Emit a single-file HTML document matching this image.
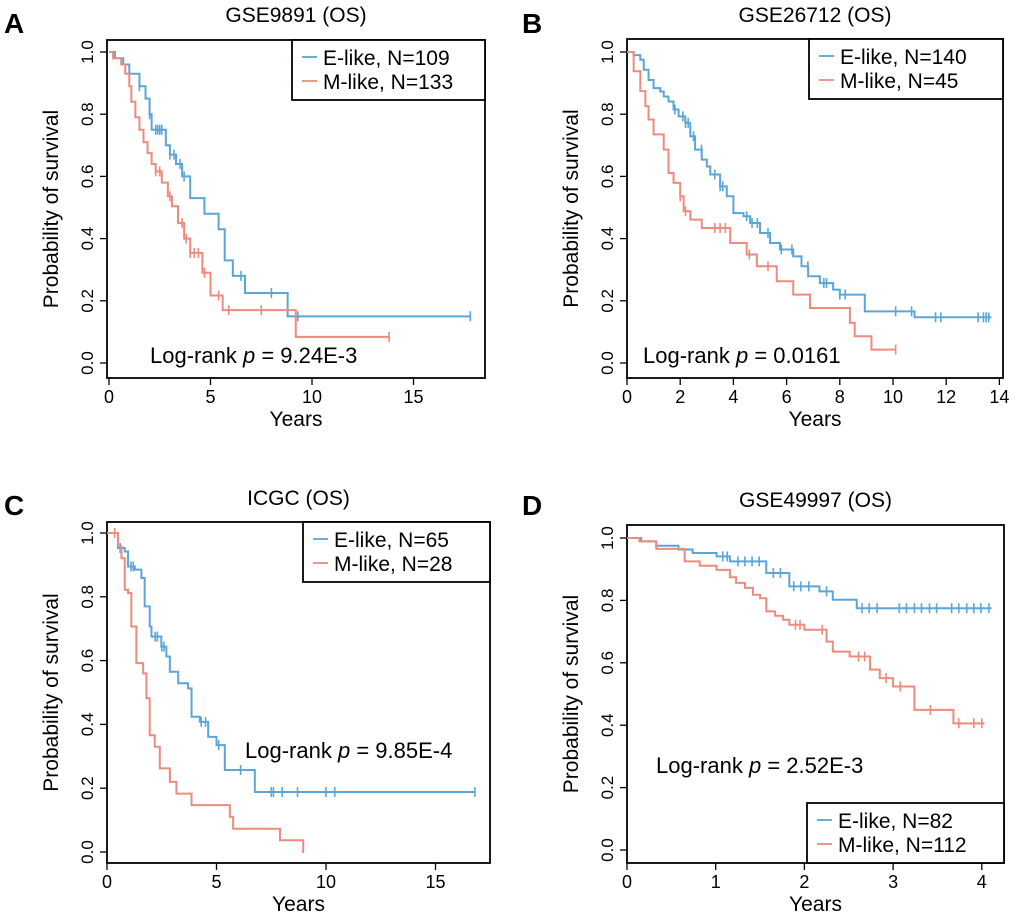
<!DOCTYPE html>
<html><head><meta charset="utf-8"><style>
body{margin:0;background:#fff}
svg{display:block;font-family:"Liberation Sans",Arial,sans-serif}
</style></head><body>
<svg id="fig" width="1020" height="921" viewBox="0 0 1020 921"></svg>
<script>
// ---- Panel A data (GSE9891) ----
const aBlueT=[0.3,0.7,1.0,1.5,1.8,2.0,2.1,2.8,3.0,3.3,3.6,4.0,4.7,5.4,5.7,6.1,6.7,8.8];
const aBlueS=[0.98,0.96,0.93,0.89,0.85,0.80,0.75,0.70,0.67,0.64,0.60,0.53,0.48,0.43,0.33,0.28,0.225,0.15];
const aBlueEnd=17.8;
const aBlueCens=[1.0,1.5,2.0,2.3,2.4,2.5,2.6,3.0,3.2,3.5,3.7,6.5,8.0,9.3,17.8];
const aRedT=[0.2,0.6,0.8,1.0,1.1,1.3,1.5,1.7,1.9,2.1,2.3,2.6,2.9,3.1,3.4,3.7,4.0,4.6,5.0,5.6,9.2];
const aRedS=[0.98,0.96,0.93,0.89,0.84,0.79,0.75,0.71,0.675,0.64,0.616,0.58,0.536,0.504,0.45,0.40,0.354,0.29,0.217,0.17,0.084];
const aRedEnd=13.8;
const aRedCens=[2.3,2.5,3.0,3.6,3.8,4.0,4.2,4.4,4.7,5.4,5.9,7.5,13.8];
// ---- Panel B data (GSE26712) ----
const bBlueT=[0.25,0.5,0.63,0.81,1.0,1.25,1.38,1.56,1.75,1.94,2.19,2.38,2.56,2.81,3.0,3.13,3.5,3.75,4.0,4.38,4.63,5.0,5.38,5.75,6.25,6.56,6.81,7.25,7.75,8.0,8.94,10.81];
const bBlueS=[0.99,0.975,0.943,0.91,0.884,0.873,0.857,0.841,0.815,0.793,0.772,0.729,0.686,0.654,0.632,0.606,0.568,0.536,0.482,0.472,0.45,0.418,0.386,0.365,0.343,0.311,0.279,0.257,0.236,0.22,0.166,0.147];
const bBlueEnd=13.7;
const bBlueCens=[1.8,2.1,2.2,2.3,2.5,2.8,3.3,3.5,3.6,4.5,4.7,4.9,5.3,5.8,6.2,6.8,7.4,7.5,8.0,8.2,10.1,10.7,11.6,11.8,13.2,13.4,13.5,13.6];
const bRedT=[0.25,0.5,0.69,0.81,1.0,1.38,1.56,1.75,2.0,2.13,2.38,2.81,3.88,4.5,4.88,5.63,6.25,6.88,8.38,8.56,9.19];
const bRedS=[0.938,0.874,0.826,0.783,0.735,0.686,0.611,0.579,0.536,0.488,0.461,0.434,0.386,0.349,0.311,0.263,0.22,0.177,0.129,0.086,0.043];
const bRedEnd=10.1;
const bRedCens=[2.0,2.2,3.3,3.5,3.7,4.6,5.3,10.1];
// ---- Panel C data (ICGC) ----
const cBlueT=[0.5,0.81,0.96,1.27,1.57,1.72,1.95,2.03,2.48,2.71,2.87,3.25,3.70,3.86,4.24,4.62,5.0,5.38,6.75];
const cBlueS=[0.953,0.942,0.895,0.885,0.859,0.77,0.707,0.675,0.644,0.613,0.565,0.529,0.513,0.424,0.408,0.361,0.335,0.257,0.188];
const cBlueEnd=16.8;
const cBlueCens=[0.6,1.1,1.2,2.2,2.3,2.5,2.6,4.3,4.5,5.1,6.1,7.5,7.6,8.0,8.7,10.0,10.4,16.8];
const cRedT=[0.5,0.66,0.81,0.96,1.11,1.34,1.65,1.80,1.95,2.18,2.41,2.87,3.17,3.86,5.61,5.76,7.90,8.96];
const cRedS=[0.958,0.921,0.822,0.812,0.707,0.592,0.56,0.482,0.366,0.33,0.262,0.22,0.183,0.147,0.11,0.073,0.037,0.0];
const cRedEnd=9.0;
const cRedCens=[0.35];
// ---- Panel D data (GSE49997) ----
const dBlueT=[0.16,0.33,0.58,0.74,1.01,1.16,1.57,1.83,2.17,2.32,2.59];
const dBlueS=[0.989,0.975,0.963,0.952,0.941,0.925,0.888,0.845,0.829,0.802,0.775];
const dBlueEnd=4.11;
const dBlueCens=[1.08,1.13,1.25,1.33,1.41,1.49,1.65,1.73,1.88,1.96,2.05,2.25,2.65,2.73,2.82,3.07,3.15,3.24,3.32,3.41,3.49,3.66,3.74,3.83,3.91,3.99,4.08];
const dRedT=[0.14,0.33,0.65,0.82,1.01,1.16,1.23,1.33,1.42,1.50,1.57,1.67,1.76,1.83,2.0,2.25,2.32,2.51,2.74,2.85,3.0,3.24,3.68];
const dRedS=[0.989,0.965,0.925,0.911,0.898,0.874,0.856,0.84,0.818,0.807,0.765,0.751,0.738,0.722,0.706,0.668,0.636,0.62,0.578,0.551,0.524,0.449,0.406];
const dRedEnd=4.03;
const dRedCens=[1.9,1.95,2.2,2.61,2.68,2.92,3.08,3.42,3.74,3.91,4.0];
// tick labels
const yTicks=["0.0","0.2","0.4","0.6","0.8","1.0"];
const aXTicks=[0,5,10,15];
const bXTicks=[0,2,4,6,8,10,12,14];
const cXTicks=[0,5,10,15];
const dXTicks=[0,1,2,3,4];

const NS="http://www.w3.org/2000/svg";
const svg=document.getElementById('fig');
const BLUE="#5aa6d9", RED="#ee8b7c";
function mk(tag,attrs,parent){const e=document.createElementNS(NS,tag);for(const k in attrs)e.setAttribute(k,attrs[k]);(parent||svg).appendChild(e);return e;}
function txt(s,attrs,parent){const e=mk('text',attrs,parent);e.textContent=s;return e;}

function panel(cfg){
  const g=mk('g',{});
  
  
  const {L,T,R,B,x0px,xPerUnit,y1,y0}=cfg;
  const X=t=>x0px+t*xPerUnit;
  const Y=s=>y0+(y1-y0)*s;
  const box=mk('rect',{x:L,y:T,width:R-L,height:B-T,fill:'none',stroke:'#000','stroke-width':1.8},g);
  
  
  yTicks.forEach((lab,i)=>{
    const v=i*0.2, y=Y(v);
    const tk=mk('line',{x1:L-7,x2:L,y1:y,y2:y,stroke:'#000','stroke-width':1.3},g);
    
    
    const t=txt(lab,{x:L-14,y:y,'font-size':17,'text-anchor':'middle',transform:`rotate(-90 ${L-14} ${y})`},g);
    
    
  });
  cfg.xt.forEach(v=>{
    const x=X(v);
    const tk=mk('line',{x1:x,x2:x,y1:B,y2:B+7,stroke:'#000','stroke-width':1.3},g);
    
    
    const t=txt(String(v),{x:x,y:B+25,'font-size':18,'text-anchor':'middle'},g);
    
    
  });
  const xl=txt('Years',{x:(L+R)/2,y:B+48,'font-size':21,'text-anchor':'middle'},g);
  
  
  const yc=(T+B)/2;
  const yx=cfg.L>500?578:58;
  const yl=txt('Probability of survival',{x:yx,y:yc,'font-size':21,'text-anchor':'middle',transform:`rotate(-90 ${yx} ${yc})`},g);
  
  
  const ti=txt(cfg.title,{x:(L+R)/2,y:cfg.titleY,'font-size':21,'text-anchor':'middle'},g);
  
  
  const le=txt(cfg.letter,{x:cfg.letterX,y:cfg.letterY,'font-size':28,'font-weight':'bold'},g);
  
  
  function curve(times,surv,end,cens,color,nm){
    let d=`M${X(0)},${Y(1)}`;
    times.forEach((t,i)=>{d+=` H${X(t)} V${Y(surv[i])}`;});
    d+=` H${X(end)}`;
    const p=mk('path',{d:d,fill:'none',stroke:color,'stroke-width':2},g);
    
    
    cens.forEach(c=>{
      let sv=1;times.forEach((t,i)=>{if(t<=c)sv=surv[i];});
      const x=X(c),y=Y(sv);
      const cm=mk('line',{x1:x,x2:x,y1:y-5,y2:y+5,stroke:color,'stroke-width':1.6},g);
      
      
    });
  }
  curve(cfg.bt,cfg.bs,cfg.be,cfg.bc,BLUE,'e-like');
  curve(cfg.rt,cfg.rs,cfg.re,cfg.rc,RED,'m-like');
  const pt=txt('',{x:cfg.pX,y:cfg.pY,'font-size':22},g);
  
  
  const s1=mk('tspan',{},pt);s1.textContent='Log-rank ';
  const s2=mk('tspan',{'font-style':'italic'},pt);s2.textContent='p';
  const s3=mk('tspan',{},pt);s3.textContent=' = '+cfg.p;
  const lg=mk('g',{},g);
  
  
  const [lx,ly,lw,lh]=cfg.leg;
  mk('rect',{x:lx,y:ly,width:lw,height:lh,fill:'#fff',stroke:'#000','stroke-width':1.8},lg);
  [[BLUE,cfg.l1,'legend-entry-e-like'],[RED,cfg.l2,'legend-entry-m-like']].forEach((e,i)=>{
    const yy=ly+17+i*24;
    const ln=mk('line',{x1:lx+10,x2:lx+25,y1:yy,y2:yy,stroke:e[0],'stroke-width':1.8},lg);
    
    
    const t=txt(e[1],{x:lx+31,y:yy+8,'font-size':21},lg);
    
    
  });
}

panel({name:'panel-a',L:107,T:40,R:485,B:378,x0px:109,xPerUnit:20.3,y1:52,y0:363,xt:aXTicks,
 title:'GSE9891 (OS)',titleY:22,letter:'A',letterX:4,letterY:33,
 bt:aBlueT,bs:aBlueS,be:aBlueEnd,bc:aBlueCens,rt:aRedT,rs:aRedS,re:aRedEnd,rc:aRedCens,
 pX:150,pY:363,p:'9.24E-3',leg:[292,40,193,60],l1:'E-like, N=109',l2:'M-like, N=133'});
panel({name:'panel-b',L:627,T:39,R:1003,B:378,x0px:627,xPerUnit:26.6,y1:52,y0:363,xt:bXTicks,
 title:'GSE26712 (OS)',titleY:22,letter:'B',letterX:522,letterY:33,
 bt:bBlueT,bs:bBlueS,be:bBlueEnd,bc:bBlueCens,rt:bRedT,rs:bRedS,re:bRedEnd,rc:bRedCens,
 pX:643,pY:363,p:'0.0161',leg:[809,39,194,60],l1:'E-like, N=140',l2:'M-like, N=45'});
panel({name:'panel-c',L:107,T:522,R:490,B:863,x0px:107,xPerUnit:21.9,y1:533,y0:852,xt:cXTicks,
 title:'ICGC (OS)',titleY:505,letter:'C',letterX:4,letterY:515,
 bt:cBlueT,bs:cBlueS,be:cBlueEnd,bc:cBlueCens,rt:cRedT,rs:cRedS,re:cRedEnd,rc:cRedCens,
 pX:245,pY:758,p:'9.85E-4',leg:[303,522,187,60],l1:'E-like, N=65',l2:'M-like, N=28'});
panel({name:'panel-d',L:627,T:525,R:1004,B:863,x0px:627,xPerUnit:88.7,y1:538,y0:850,xt:dXTicks,
 title:'GSE49997 (OS)',titleY:507,letter:'D',letterX:522,letterY:515,
 bt:dBlueT,bs:dBlueS,be:dBlueEnd,bc:dBlueCens,rt:dRedT,rs:dRedS,re:dRedEnd,rc:dRedCens,
 pX:656,pY:773,p:'2.52E-3',leg:[807,803,197,60],l1:'E-like, N=82',l2:'M-like, N=112'});
</script>
</body></html>
